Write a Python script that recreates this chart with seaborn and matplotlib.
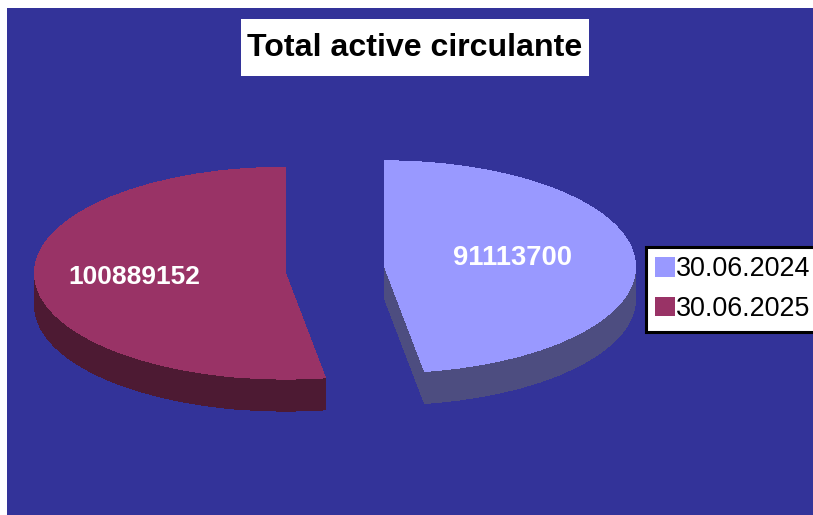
import seaborn as sns
import matplotlib.pyplot as plt
from matplotlib.patches import Rectangle

dates = ['30.06.2024', '30.06.2025']
values = [91113700, 100889152]
top_colors = ['#9999FF', '#993366']
side_colors = ['#4D4D80', '#4D1A33']
title = 'Total active circulante'

sns.set_theme(style='white')
plt.rcParams['font.family'] = ['Liberation Sans', 'DejaVu Sans']

W, H = 813, 515
rx, ry = 251, 106      # pie radius in pixels, squashed
cx, cy = 335, 268.5    # pie centre in pixels
depth = 32
flat = dict(linewidth=0, antialiased=False)


def draw_pie(colors, drop=0):
    wedges, _ = ax.pie(values, colors=sns.color_palette(colors), startangle=90, counterclock=False,
                       explode=[0.198, 0.198], center=(0, -drop / ry), wedgeprops=flat)
    # the 2025 slice sits a little lower than the explode gives
    x, y = wedges[1].center
    wedges[1].set_center((x, y - 3 / ry))
    return wedges


fig = plt.figure(figsize=(W / 100, H / 100), dpi=100, facecolor='white')
ax = fig.add_axes([7 / W, 0, (W - 7) / W, 507 / H])

# side of the pie: same pie repeated downwards
for k in range(depth, 0, -1):
    draw_pie(side_colors, k)
wedges = draw_pie(top_colors)

ax.set_aspect('auto')
ax.set_xlim((7 - cx) / rx, (W - cx) / rx)
ax.set_ylim((cy - H) / ry, (cy - 8) / ry)
ax.set_frame_on(True)
ax.set_facecolor('#333399')
sns.despine(ax=ax, left=True, bottom=True)

fig.add_artist(Rectangle((241 / W, 1 - 76 / H), 348 / W, 57 / H, transform=fig.transFigure,
                         facecolor='white', edgecolor='none', zorder=2))
fig.text(414.5 / W, 1 - 48 / H, title, ha='center', va='center', fontsize=23.1, fontweight='bold', color='black', zorder=3)

fig.text(512 / W, 1 - 258 / H, str(values[0]), ha='center', va='center', fontsize=19.7, fontweight='bold', color='white')
fig.text(134 / W, 1 - 277 / H, str(values[1]), ha='center', va='center', fontsize=19, fontweight='bold', color='white')

leg = ax.legend(wedges, dates, loc='upper left', bbox_to_anchor=(646 / W, 1 - 247 / H), bbox_transform=fig.transFigure,
                fontsize=19.4, frameon=True, fancybox=False, framealpha=1, edgecolor='black', labelcolor='black',
                handlelength=0.72, handleheight=0.72, handletextpad=0.05, labelspacing=0.51,
                borderpad=0.35, borderaxespad=0)
leg.get_frame().set_linewidth(2.2)

fig.savefig('out.png', dpi=100)
